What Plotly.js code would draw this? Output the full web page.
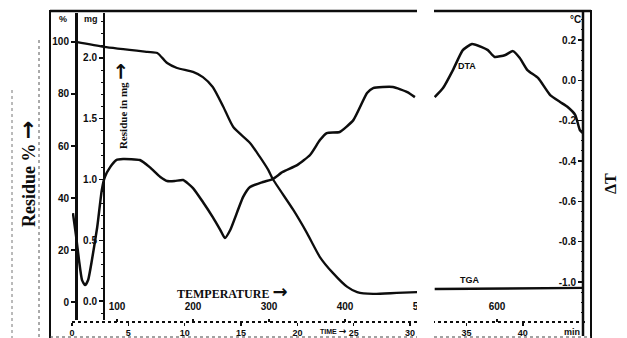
<!DOCTYPE html>
<html><head><meta charset="utf-8">
<script src="https://cdn.plot.ly/plotly-3.0.1.min.js"></script>
<style>html,body{margin:0;padding:0;background:#fff}#chart{width:627px;height:338px}</style>
</head><body><div id="chart"></div>
<script>
const W = 627, H = 338;

// TGA: residue (%) vs temperature (°C); null = gap in the recording
const tgaTemp = [46, 83, 140, 153, 166, 179, 200, 213, 226, 240, 253, 275, 288, 299, 305, 332, 350, 367, 384, 403, 416, 437, 468, 495, 505, 518, 713];
const tgaPct  = [100, 98.1, 96.2, 95.8, 91.9, 90, 88.5, 86.5, 82.7, 75, 67.3, 61.2, 55.8, 50.8, 47.3, 35.4, 26.5, 17.3, 11.2, 5.8, 3.8, 3.1, 3.5, 3.8, null, 5.0, 5.4];

// DTA: ΔT (°C) vs temperature (°C)
const dtaTemp = [42, 46, 50, 54, 58, 62, 67, 74, 80, 84, 91, 99, 108, 130, 143, 157, 166, 176, 187, 200, 213, 226, 236, 242, 249, 266, 275, 292, 305, 318, 337, 354, 367, 376, 393, 411, 429, 437, 463, 482, 492, 505,
                 518, 529, 542, 555, 567, 580, 588, 597, 611, 621, 630, 640, 654, 670, 683, 693, 703, 709, 713];
const dtaDT   = [-0.658, -0.767, -0.891, -0.99, -1.015, -0.99, -0.891, -0.727, -0.544, -0.479, -0.43, -0.395, -0.39, -0.395, -0.43, -0.479, -0.499, -0.499, -0.494, -0.534, -0.603, -0.678, -0.742, -0.782, -0.742, -0.578, -0.529, -0.504, -0.489, -0.454, -0.42, -0.37, -0.296, -0.261, -0.256, -0.197, -0.063, -0.038, -0.033, -0.058, -0.083, null,
                 -0.083, -0.038, 0.051, 0.150, 0.180, 0.165, 0.150, 0.116, 0.126, 0.145, 0.111, 0.051, 0.012, -0.073, -0.107, -0.132, -0.172, -0.246, -0.261];

// tick labels
const tempTicks = [100, 200, 300, 400, 500, 600];
const timeTicks = [0, 5, 10, 15, 20, 25, 30, 35, 40];
const pctTicks = [0, 20, 40, 60, 80, 100];
const pctLabels = ['0', '20', '40', '60', '80', '100'];
const mgTicks = [0, 0.5, 1.0, 1.5, 2.0];
const mgLabels = ['0.0', '0.5', '1.0', '1.5', '2.0'];
const dtTicks = [-1.0, -0.8, -0.6, -0.4, -0.2, 0.0, 0.2];
const dtLabels = ['-1.0', '-0.8', '-0.6', '-0.4', '-0.2', '0.0', '0.2'];

const INK = '#0d0d0d';
const px = x => x / W;
const py = y => 1 - y / H;
const tf = {family: 'Liberation Sans, Arial, sans-serif', size: 10, color: INK, weight: 'bold'};
const serif = 'Liberation Serif, Times New Roman, serif';
const ARROW = s => '<span style="font-family:DejaVu Sans;font-size:' + s + 'px">→</span>';

const traces = [
  {x: tgaTemp, y: tgaPct, xaxis: 'x', yaxis: 'y', mode: 'lines', connectgaps: false,
   line: {color: INK, width: 2.3, shape: 'spline', smoothing: 0.6}, hoverinfo: 'skip'},
  {x: dtaTemp, y: dtaDT, xaxis: 'x', yaxis: 'y3', mode: 'lines', connectgaps: false,
   line: {color: INK, width: 2.5, shape: 'spline', smoothing: 0.5}, hoverinfo: 'skip'},
  {x: [], y: [], xaxis: 'x2', yaxis: 'y', mode: 'lines', hoverinfo: 'skip'},
  {x: [], y: [], xaxis: 'x', yaxis: 'y2', mode: 'lines', hoverinfo: 'skip'}
];

const xd = [72 / W, 585 / W];
const yd = [(H - 320) / H, (H - 13) / H];
const common = {showgrid: false, zeroline: false, fixedrange: true, tickcolor: INK, tickfont: tf};

const layout = {
  width: W, height: H, margin: {l: 0, r: 0, t: 0, b: 0},
  paper_bgcolor: '#fff', plot_bgcolor: 'rgba(0,0,0,0)', showlegend: false,
  xaxis: Object.assign({}, common, {domain: xd, range: [40.79, 715.79], anchor: 'free', position: (H - 322) / H,
    side: 'top', showline: false, tickvals: tempTicks, ticks: 'outside', ticklen: 3, tickwidth: 1.5,
    ticklabelstandoff: 5, tickfont: Object.assign({}, tf, {size: 10})}),
  xaxis2: Object.assign({}, common, {overlaying: 'x', domain: xd, range: [0, 45.52], anchor: 'free', position: (H - 322) / H,
    side: 'bottom', showline: false, tickvals: timeTicks, ticks: 'outside', ticklen: 3, tickwidth: 1.5,
    ticklabelstandoff: -1, tickfont: Object.assign({}, tf, {size: 9})}),
  yaxis: Object.assign({}, common, {domain: yd, range: [-6.92, 111.15], anchor: 'free', position: 76 / W, side: 'left',
    showline: true, linewidth: 2.5, linecolor: INK, tickvals: pctTicks, ticktext: pctLabels, ticks: 'outside', ticklen: 4, tickwidth: 1.5}),
  yaxis2: Object.assign({}, common, {overlaying: 'y', domain: yd, range: [-0.156, 2.370], anchor: 'free', position: 104 / W, side: 'left',
    showline: true, linewidth: 2, linecolor: INK, tickvals: mgTicks, ticktext: mgLabels, ticks: 'outside', ticklen: 4, tickwidth: 1.5,
    minor: {dtick: 0.1, ticks: 'outside', ticklen: 2, tickcolor: INK, tickwidth: 1}}),
  yaxis3: Object.assign({}, common, {overlaying: 'y', domain: yd, range: [-1.188, 0.334], anchor: 'free', position: 583 / W, side: 'left',
    showline: false, tickvals: dtTicks, ticktext: dtLabels, ticks: 'outside', ticklen: 5, tickwidth: 1.5,
    minor: {dtick: 0.05, ticks: 'outside', ticklen: 2, tickcolor: INK, tickwidth: 1}}),
  shapes: [
    {type: 'line', xref: 'paper', yref: 'paper', x0: px(50), x1: px(50), y0: py(10), y1: py(338), line: {color: INK, width: 2}},
    {type: 'line', xref: 'paper', yref: 'paper', x0: px(50), x1: px(591), y0: py(11), y1: py(11), line: {color: INK, width: 2.5}},
    {type: 'line', xref: 'paper', yref: 'paper', x0: px(591), x1: px(591), y0: py(10), y1: py(338), line: {color: INK, width: 2}},
    {type: 'line', xref: 'paper', yref: 'paper', x0: px(583), x1: px(583), y0: py(12), y1: py(336), line: {color: INK, width: 2.5}},
    {type: 'line', xref: 'paper', yref: 'paper', x0: px(72), x1: px(585), y0: py(322), y1: py(322), line: {color: INK, width: 1.8, dash: 'dot'}},
    {type: 'line', xref: 'paper', yref: 'paper', x0: px(50), x1: px(591), y0: py(337), y1: py(337), line: {color: '#444', width: 1, dash: 'dot'}},
    {type: 'line', xref: 'paper', yref: 'paper', x0: px(39), x1: px(39), y0: py(40), y1: py(338), line: {color: '#555', width: 1, dash: 'dot'}},
    {type: 'line', xref: 'paper', yref: 'paper', x0: px(12), x1: px(12), y0: py(90), y1: py(338), line: {color: '#777', width: 1, dash: 'dot'}},
    {type: 'rect', xref: 'paper', yref: 'paper', x0: px(417), x1: px(434), y0: 0, y1: 1, layer: 'above',
     fillcolor: '#fff', line: {width: 0}}
  ],
  annotations: [
    {text: '%', x: px(63), y: py(19), font: Object.assign({}, tf, {size: 9})},
    {text: 'mg', x: px(91), y: py(19), font: Object.assign({}, tf, {size: 9})},
    {text: '°C', x: px(575), y: py(20), font: Object.assign({}, tf, {size: 10})},
    {text: 'Residue in mg ' + ARROW(20), x: px(120), y: py(106), textangle: -90,
     font: {family: serif, size: 11, color: INK, weight: 'bold'}},
    {text: 'Residue % ' + ARROW(22), x: px(27), y: py(174), textangle: -90,
     font: {family: serif, size: 18, color: INK, weight: 'bold'}},
    {text: 'TEMPERATURE ' + ARROW(18), x: px(232), y: py(291),
     font: {family: serif, size: 12, color: INK, weight: 'bold'}},
    {text: 'DTA', x: px(467), y: py(66), font: Object.assign({}, tf, {size: 9})},
    {text: 'TGA', x: px(469), y: py(280), font: Object.assign({}, tf, {size: 9})},
    {text: 'ΔT', x: px(610), y: py(184), textangle: -90,
     font: {family: serif, size: 16, color: INK, weight: 'bold'}},
    {text: 'TIME ' + ARROW(9), x: px(333), y: py(331), font: Object.assign({}, tf, {size: 7})},
    {text: 'min', x: px(572), y: py(332), font: Object.assign({}, tf, {size: 9})}
  ].map(a => Object.assign({xref: 'paper', yref: 'paper', showarrow: false, xanchor: 'center', yanchor: 'middle'}, a))
};

Plotly.newPlot('chart', traces, layout, {displayModeBar: false, staticPlot: true});
</script>
</body></html>
